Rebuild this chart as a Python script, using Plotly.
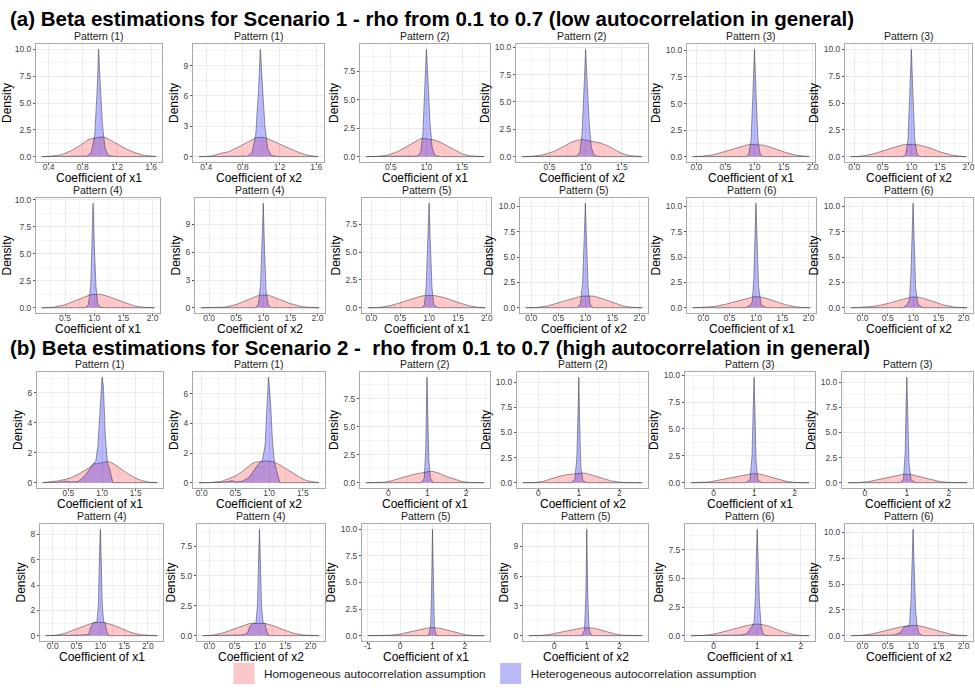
import plotly.graph_objects as go

FONT = "Arial, Liberation Sans, Helvetica, sans-serif"

TITLE_A = "(a) Beta estimations for Scenario 1 - rho from 0.1 to 0.7 (low autocorrelation in general)"
TITLE_B = "(b) Beta estimations for Scenario 2 -  rho from 0.1 to 0.7 (high autocorrelation in general)"
PANEL_TITLES = ["Pattern (1)", "Pattern (1)", "Pattern (2)", "Pattern (2)", "Pattern (3)", "Pattern (3)",
                "Pattern (4)", "Pattern (4)", "Pattern (5)", "Pattern (5)", "Pattern (6)", "Pattern (6)"]
X_TITLES = ["Coefficient of x1", "Coefficient of x2"] * 6
Y_TITLE = "Density"
SERIES_NAMES = ["Homogeneous autocorrelation assumption", "Heterogeneous autocorrelation assumption"]

# ---------------- Scenario 1 ----------------
a1_x = [0.32, 0.45, 0.55, 0.65, 0.75, 0.85, 0.90, 0.94, 0.97, 0.985, 1.00, 1.03, 1.06, 1.10, 1.20, 1.30, 1.40, 1.50, 1.66]
a1_hom = [0.00, 0.06, 0.18, 0.50, 0.95, 1.50, 1.68, 1.76, 1.80, 1.81, 1.82, 1.83, 1.80, 1.65, 1.20, 0.75, 0.40, 0.15, 0.00]
a1_het = [0, 0, 0, 0, 0, 0.05, 0.40, 2.00, 6.50, 10.0, 7.50, 3.00, 0.80, 0.10, 0, 0, 0, 0, 0]
a1_xt = [0.4, 0.8, 1.2, 1.6]
a1_yt = [0, 2.5, 5, 7.5, 10]

a2_x = [0.32, 0.45, 0.55, 0.65, 0.75, 0.85, 0.90, 0.94, 0.97, 0.99, 1.01, 1.04, 1.07, 1.11, 1.20, 1.30, 1.40, 1.50, 1.62]
a2_hom = [0.00, 0.05, 0.30, 0.50, 0.95, 1.45, 1.70, 1.85, 1.90, 1.92, 1.90, 1.85, 1.78, 1.60, 1.25, 0.85, 0.45, 0.15, 0.00]
a2_het = [0, 0, 0, 0, 0, 0.05, 0.40, 2.20, 6.50, 10.6, 7.50, 3.00, 0.80, 0.10, 0, 0, 0, 0, 0]
a2_xt = [0.4, 0.8, 1.2, 1.6]
a2_yt = [0, 3, 6, 9]

a3_x = [0.15, 0.30, 0.45, 0.60, 0.70, 0.80, 0.88, 0.92, 0.95, 0.98, 1.00, 1.02, 1.05, 1.08, 1.12, 1.20, 1.30, 1.40, 1.50, 1.60, 1.70, 1.81]
a3_hom = [0.00, 0.02, 0.12, 0.45, 0.80, 1.15, 1.45, 1.58, 1.60, 1.57, 1.55, 1.55, 1.52, 1.50, 1.45, 1.25, 0.90, 0.55, 0.25, 0.08, 0.02, 0.00]
a3_het = [0, 0, 0, 0, 0, 0, 0.05, 0.40, 2.00, 6.50, 9.40, 7.00, 3.00, 0.80, 0.10, 0, 0, 0, 0, 0, 0, 0]
a3_xt = [0.5, 1.0, 1.5]
a3_yt = [0, 2.5, 5, 7.5]

a4_x = [0.12, 0.25, 0.40, 0.55, 0.70, 0.80, 0.88, 0.92, 0.95, 0.98, 1.00, 1.02, 1.05, 1.08, 1.12, 1.20, 1.30, 1.40, 1.50, 1.60, 1.78]
a4_hom = [0.00, 0.03, 0.15, 0.45, 0.95, 1.30, 1.50, 1.55, 1.56, 1.55, 1.53, 1.50, 1.45, 1.40, 1.35, 1.25, 1.00, 0.65, 0.30, 0.10, 0.00]
a4_het = [0, 0, 0, 0, 0, 0, 0.05, 0.40, 2.00, 6.50, 9.80, 7.00, 3.00, 0.80, 0.10, 0, 0, 0, 0, 0, 0]
a4_xt = [0.5, 1.0, 1.5]
a4_yt = [0, 2.5, 5, 7.5, 10]

a5_x = [-0.06, 0.10, 0.30, 0.50, 0.70, 0.85, 0.90, 0.94, 0.97, 1.00, 1.03, 1.06, 1.10, 1.15, 1.30, 1.50, 1.70, 1.85, 1.94]
a5_hom = [0.00, 0.03, 0.18, 0.50, 0.88, 1.10, 1.14, 1.15, 1.15, 1.15, 1.15, 1.14, 1.12, 1.08, 0.85, 0.45, 0.15, 0.03, 0.00]
a5_het = [0, 0, 0, 0, 0, 0, 0.20, 1.50, 5.50, 10.1, 5.50, 1.50, 0.20, 0, 0, 0, 0, 0, 0]
a5_xt = [0, 0.5, 1, 1.5, 2]
a5_yt = [0, 2.5, 5, 7.5, 10]

a6_x = [-0.06, 0.10, 0.30, 0.50, 0.70, 0.85, 0.90, 0.94, 0.97, 1.00, 1.03, 1.06, 1.10, 1.15, 1.30, 1.50, 1.70, 1.85, 1.96]
a6_hom = [0.00, 0.03, 0.20, 0.52, 0.90, 1.10, 1.13, 1.14, 1.14, 1.14, 1.14, 1.13, 1.11, 1.07, 0.85, 0.45, 0.15, 0.03, 0.00]
a6_het = [0, 0, 0, 0, 0, 0, 0.20, 1.50, 5.50, 10.0, 5.50, 1.50, 0.20, 0, 0, 0, 0, 0, 0]
a6_xt = [0, 0.5, 1, 1.5, 2]
a6_yt = [0, 2.5, 5, 7.5, 10]

a7_x = [0.10, 0.30, 0.50, 0.70, 0.85, 0.90, 0.94, 0.96, 0.98, 1.00, 1.03, 1.06, 1.10, 1.20, 1.35, 1.50, 1.70, 1.85, 2.03]
a7_hom = [0.00, 0.05, 0.28, 0.72, 1.08, 1.17, 1.22, 1.24, 1.25, 1.26, 1.27, 1.27, 1.25, 1.12, 0.82, 0.48, 0.15, 0.04, 0.00]
a7_het = [0, 0, 0, 0, 0, 0.30, 2.00, 5.50, 9.70, 6.00, 2.00, 0.40, 0.05, 0, 0, 0, 0, 0, 0]
a7_xt = [0.5, 1, 1.5, 2]
a7_yt = [0, 2.5, 5, 7.5, 10]

a8_x = [-0.15, 0.10, 0.30, 0.50, 0.70, 0.85, 0.91, 0.95, 0.98, 1.00, 1.02, 1.05, 1.09, 1.15, 1.30, 1.50, 1.70, 1.85, 2.03]
a8_hom = [0.00, 0.01, 0.08, 0.35, 0.85, 1.22, 1.32, 1.36, 1.38, 1.39, 1.39, 1.38, 1.35, 1.25, 0.90, 0.45, 0.15, 0.04, 0.00]
a8_het = [0, 0, 0, 0, 0, 0, 0.40, 2.50, 7.50, 11.3, 7.00, 2.00, 0.30, 0, 0, 0, 0, 0, 0]
a8_xt = [0, 0.5, 1, 1.5, 2]
a8_yt = [0, 3, 6, 9]

a9_x = [-0.06, 0.15, 0.35, 0.55, 0.75, 0.88, 0.92, 0.95, 0.98, 1.00, 1.02, 1.05, 1.08, 1.15, 1.30, 1.50, 1.70, 1.85, 1.97]
a9_hom = [0.00, 0.04, 0.22, 0.55, 0.92, 1.07, 1.09, 1.10, 1.10, 1.10, 1.10, 1.10, 1.10, 1.05, 0.85, 0.48, 0.17, 0.04, 0.00]
a9_het = [0, 0, 0, 0, 0, 0, 0.30, 2.00, 6.50, 9.40, 6.00, 1.80, 0.30, 0, 0, 0, 0, 0, 0]
a9_xt = [0, 0.5, 1, 1.5, 2]
a9_yt = [0, 2.5, 5, 7.5]

a10_x = [-0.10, 0.10, 0.30, 0.50, 0.70, 0.85, 0.91, 0.95, 0.98, 1.00, 1.02, 1.05, 1.09, 1.15, 1.30, 1.50, 1.70, 1.85, 2.05]
a10_hom = [0.00, 0.04, 0.18, 0.48, 0.85, 1.08, 1.12, 1.14, 1.15, 1.16, 1.17, 1.18, 1.18, 1.15, 0.92, 0.52, 0.18, 0.05, 0.00]
a10_het = [0, 0, 0, 0, 0, 0, 0.40, 2.50, 7.00, 10.3, 7.00, 2.00, 0.30, 0, 0, 0, 0, 0, 0]
a10_xt = [0, 0.5, 1, 1.5, 2]
a10_yt = [0, 2.5, 5, 7.5, 10]

a11_x = [-0.20, 0.00, 0.20, 0.40, 0.60, 0.80, 0.88, 0.93, 0.96, 0.98, 1.00, 1.02, 1.05, 1.10, 1.20, 1.40, 1.60, 1.80, 2.03]
a11_hom = [0.00, 0.03, 0.12, 0.32, 0.60, 0.92, 1.02, 1.06, 1.08, 1.09, 1.10, 1.10, 1.09, 1.05, 0.92, 0.58, 0.25, 0.06, 0.00]
a11_het = [0, 0, 0, 0, 0, 0, 0.20, 0.60, 3.00, 7.00, 10.3, 7.00, 2.00, 0.30, 0, 0, 0, 0, 0]
a11_xt = [0, 0.5, 1, 1.5, 2]
a11_yt = [0, 2.5, 5, 7.5, 10]

a12_x = [-0.23, 0.00, 0.20, 0.40, 0.60, 0.80, 0.88, 0.93, 0.96, 0.98, 1.00, 1.02, 1.05, 1.10, 1.20, 1.40, 1.60, 1.80, 2.07]
a12_hom = [0.00, 0.03, 0.12, 0.30, 0.58, 0.88, 0.98, 1.02, 1.04, 1.05, 1.06, 1.06, 1.06, 1.04, 0.94, 0.62, 0.28, 0.07, 0.00]
a12_het = [0, 0, 0, 0, 0, 0, 0.30, 0.80, 3.50, 7.50, 10.3, 7.00, 2.00, 0.30, 0, 0, 0, 0, 0]
a12_xt = [0, 0.5, 1, 1.5, 2]
a12_yt = [0, 2.5, 5, 7.5, 10]

# ---------------- Scenario 2 ----------------
b1_x = [0.12, 0.25, 0.35, 0.45, 0.55, 0.65, 0.70, 0.75, 0.80, 0.85, 0.88, 0.91, 0.94, 0.97, 1.00, 1.02, 1.05, 1.08, 1.12, 1.16, 1.22, 1.30, 1.40, 1.50, 1.60, 1.70, 1.82]
b1_hom = [0.00, 0.05, 0.13, 0.22, 0.35, 0.58, 0.70, 0.82, 0.98, 1.15, 1.30, 1.25, 1.28, 1.32, 1.35, 1.38, 1.40, 1.42, 1.38, 1.30, 1.12, 0.85, 0.55, 0.30, 0.13, 0.04, 0.00]
b1_het = [0.00, 0.00, 0.03, 0.10, 0.05, 0.08, 0.30, 0.50, 0.80, 1.10, 1.25, 1.50, 2.50, 5.00, 7.05, 6.50, 3.00, 1.35, 0.80, 0.00, 0, 0, 0, 0, 0, 0, 0]
b1_xt = [0.5, 1.0, 1.5]
b1_yt = [0, 2, 4, 6]

b2_x = [-0.04, 0.15, 0.30, 0.40, 0.45, 0.50, 0.60, 0.70, 0.75, 0.80, 0.85, 0.90, 0.94, 0.97, 0.99, 1.02, 1.05, 1.08, 1.12, 1.16, 1.25, 1.35, 1.45, 1.55, 1.65, 1.74]
b2_hom = [0.00, 0.02, 0.10, 0.25, 0.35, 0.45, 0.75, 1.10, 1.30, 1.38, 1.42, 1.45, 1.46, 1.46, 1.46, 1.45, 1.42, 1.38, 1.30, 1.20, 0.95, 0.65, 0.38, 0.15, 0.08, 0.00]
b2_het = [0.00, 0.00, 0.02, 0.08, 0.15, 0.05, 0.10, 0.35, 0.70, 1.00, 1.30, 1.50, 2.50, 5.50, 7.10, 5.50, 2.80, 1.35, 0.60, 0.00, 0, 0, 0, 0, 0, 0]
b2_xt = [0, 0.5, 1.0, 1.5]
b2_yt = [0, 2, 4, 6]

b3_x = [-0.58, -0.30, -0.10, 0.10, 0.30, 0.50, 0.70, 0.85, 0.92, 0.96, 0.99, 1.01, 1.04, 1.08, 1.15, 1.30, 1.50, 1.70, 1.90, 2.10, 2.46]
b3_hom = [0.00, 0.01, 0.05, 0.20, 0.42, 0.60, 0.78, 0.90, 0.95, 0.98, 1.00, 1.01, 1.02, 1.02, 1.00, 0.85, 0.55, 0.30, 0.10, 0.02, 0.00]
b3_het = [0, 0, 0, 0, 0, 0, 0, 0.00, 0.40, 3.00, 9.40, 6.00, 2.00, 0.40, 0.00, 0, 0, 0, 0, 0, 0]
b3_xt = [0, 1, 2]
b3_yt = [0, 2.5, 5, 7.5]

b4_x = [-0.38, -0.10, 0.10, 0.30, 0.50, 0.70, 0.80, 0.90, 0.95, 0.98, 1.00, 1.02, 1.05, 1.10, 1.20, 1.40, 1.60, 1.80, 2.00, 2.20, 2.56]
b4_hom = [0.00, 0.02, 0.12, 0.38, 0.62, 0.80, 0.84, 0.85, 0.86, 0.88, 0.90, 0.92, 0.95, 0.97, 0.92, 0.68, 0.40, 0.18, 0.06, 0.01, 0.00]
b4_het = [0, 0, 0, 0, 0, 0, 0.00, 0.30, 2.50, 7.00, 10.5, 6.00, 1.50, 0.20, 0.00, 0, 0, 0, 0, 0, 0]
b4_xt = [0, 1, 2]
b4_yt = [0, 2.5, 5, 7.5, 10]

b5_x = [-0.56, -0.30, -0.10, 0.10, 0.30, 0.45, 0.60, 0.80, 0.90, 0.95, 0.98, 1.00, 1.02, 1.05, 1.10, 1.20, 1.40, 1.60, 1.80, 2.00, 2.36]
b5_hom = [0.00, 0.02, 0.08, 0.22, 0.38, 0.45, 0.58, 0.78, 0.84, 0.85, 0.86, 0.86, 0.86, 0.85, 0.82, 0.75, 0.55, 0.32, 0.13, 0.03, 0.00]
b5_het = [0, 0, 0, 0, 0, 0, 0, 0.00, 0.30, 2.50, 7.00, 9.80, 7.00, 2.00, 0.20, 0, 0, 0, 0, 0, 0]
b5_xt = [0, 1, 2]
b5_yt = [0, 2.5, 5, 7.5, 10]

b6_x = [-0.40, -0.15, 0.10, 0.30, 0.50, 0.70, 0.85, 0.92, 0.96, 0.98, 1.00, 1.02, 1.05, 1.10, 1.20, 1.40, 1.60, 1.80, 2.00, 2.43]
b6_hom = [0.00, 0.02, 0.12, 0.30, 0.52, 0.72, 0.82, 0.85, 0.86, 0.86, 0.86, 0.85, 0.84, 0.80, 0.72, 0.50, 0.28, 0.10, 0.03, 0.00]
b6_het = [0, 0, 0, 0, 0, 0, 0.00, 0.40, 3.00, 7.50, 10.5, 7.00, 2.00, 0.30, 0.00, 0, 0, 0, 0, 0]
b6_xt = [0, 1, 2]
b6_yt = [0, 2.5, 5, 7.5, 10]

b7_x = [-0.15, 0.05, 0.25, 0.45, 0.60, 0.70, 0.76, 0.80, 0.85, 0.93, 0.96, 0.98, 1.00, 1.02, 1.04, 1.07, 1.10, 1.14, 1.18, 1.30, 1.45, 1.65, 1.85, 2.00, 2.20]
b7_hom = [0.00, 0.03, 0.18, 0.45, 0.68, 0.85, 0.93, 0.97, 1.02, 1.06, 1.06, 1.06, 1.06, 1.06, 1.06, 1.05, 1.03, 0.98, 0.95, 0.80, 0.55, 0.25, 0.07, 0.02, 0.00]
b7_het = [0.00, 0.00, 0.00, 0.03, 0.05, 0.08, 0.10, 0.70, 1.00, 1.10, 2.50, 6.00, 8.40, 6.00, 2.50, 1.10, 1.00, 0.30, 0.00, 0, 0, 0, 0, 0, 0]
b7_xt = [0, 0.5, 1, 1.5, 2]
b7_yt = [0, 2, 4, 6, 8]

b8_x = [-0.13, 0.05, 0.25, 0.45, 0.60, 0.70, 0.76, 0.80, 0.85, 0.92, 0.95, 0.97, 0.99, 1.01, 1.03, 1.06, 1.10, 1.14, 1.18, 1.30, 1.45, 1.65, 1.85, 2.00, 2.17]
b8_hom = [0.00, 0.03, 0.20, 0.50, 0.75, 0.92, 1.00, 1.03, 1.04, 1.05, 1.05, 1.05, 1.05, 1.05, 1.05, 1.04, 1.02, 0.98, 0.94, 0.78, 0.52, 0.22, 0.06, 0.02, 0.00]
b8_het = [0.00, 0.00, 0.00, 0.03, 0.05, 0.10, 0.30, 0.80, 1.00, 1.05, 2.50, 6.00, 8.90, 6.00, 2.50, 1.10, 1.00, 0.30, 0.00, 0, 0, 0, 0, 0, 0]
b8_xt = [0, 0.5, 1, 1.5, 2]
b8_yt = [0, 2.5, 5, 7.5]

b9_x = [-1.00, -0.60, -0.30, 0.00, 0.30, 0.55, 0.75, 0.88, 0.94, 0.97, 1.00, 1.03, 1.06, 1.12, 1.30, 1.55, 1.80, 2.05, 2.30, 2.60]
b9_hom = [0.00, 0.01, 0.05, 0.15, 0.35, 0.55, 0.70, 0.74, 0.75, 0.75, 0.75, 0.75, 0.75, 0.74, 0.65, 0.45, 0.22, 0.07, 0.01, 0.00]
b9_het = [0, 0, 0, 0, 0, 0, 0, 0.00, 0.80, 4.00, 10.0, 4.00, 0.80, 0.00, 0, 0, 0, 0, 0, 0]
b9_xt = [-1, 0, 1, 2]
b9_yt = [0, 2.5, 5, 7.5, 10]

b10_x = [-0.78, -0.40, -0.10, 0.20, 0.50, 0.70, 0.85, 0.93, 0.97, 1.00, 1.03, 1.07, 1.15, 1.35, 1.60, 1.85, 2.10, 2.40, 2.70]
b10_hom = [0.00, 0.03, 0.15, 0.35, 0.58, 0.72, 0.78, 0.79, 0.80, 0.80, 0.80, 0.80, 0.78, 0.65, 0.40, 0.18, 0.05, 0.01, 0.00]
b10_het = [0, 0, 0, 0, 0, 0, 0.00, 0.60, 4.00, 10.7, 4.00, 0.60, 0.00, 0, 0, 0, 0, 0, 0]
b10_xt = [0, 1, 2]
b10_yt = [0, 3, 6, 9]

b11_x = [-0.52, -0.25, 0.00, 0.20, 0.40, 0.60, 0.75, 0.82, 0.88, 0.93, 0.96, 0.98, 1.00, 1.02, 1.05, 1.09, 1.14, 1.25, 1.45, 1.65, 1.85, 2.00, 2.19]
b11_hom = [0.00, 0.02, 0.12, 0.30, 0.52, 0.72, 0.88, 0.94, 0.98, 1.00, 1.01, 1.02, 1.02, 1.02, 1.00, 0.98, 0.95, 0.85, 0.55, 0.28, 0.09, 0.02, 0.00]
b11_het = [0.00, 0.00, 0.00, 0.00, 0.02, 0.05, 0.15, 0.50, 0.80, 1.20, 3.50, 7.00, 9.30, 7.00, 3.00, 0.80, 0.10, 0.00, 0, 0, 0, 0, 0]
b11_xt = [0, 1, 2]
b11_yt = [0, 2.5, 5, 7.5]

b12_x = [-0.23, 0.00, 0.20, 0.40, 0.55, 0.65, 0.75, 0.82, 0.88, 0.93, 0.96, 0.98, 1.00, 1.02, 1.05, 1.08, 1.12, 1.20, 1.35, 1.55, 1.75, 1.90, 2.07]
b12_hom = [0.00, 0.04, 0.18, 0.45, 0.65, 0.78, 0.85, 0.90, 0.95, 0.98, 1.00, 1.00, 1.00, 1.00, 1.00, 0.98, 0.96, 0.88, 0.68, 0.38, 0.13, 0.04, 0.00]
b12_het = [0.00, 0.00, 0.00, 0.02, 0.05, 0.10, 0.30, 0.85, 0.95, 1.00, 3.50, 7.00, 10.3, 7.00, 2.50, 0.90, 0.20, 0.00, 0, 0, 0, 0, 0]
b12_xt = [0, 0.5, 1, 1.5, 2]
b12_yt = [0, 2.5, 5, 7.5, 10]

PANELS = [
    (a1_x, a1_hom, a1_het, a1_xt, a1_yt), (a2_x, a2_hom, a2_het, a2_xt, a2_yt),
    (a3_x, a3_hom, a3_het, a3_xt, a3_yt), (a4_x, a4_hom, a4_het, a4_xt, a4_yt),
    (a5_x, a5_hom, a5_het, a5_xt, a5_yt), (a6_x, a6_hom, a6_het, a6_xt, a6_yt),
    (a7_x, a7_hom, a7_het, a7_xt, a7_yt), (a8_x, a8_hom, a8_het, a8_xt, a8_yt),
    (a9_x, a9_hom, a9_het, a9_xt, a9_yt), (a10_x, a10_hom, a10_het, a10_xt, a10_yt),
    (a11_x, a11_hom, a11_het, a11_xt, a11_yt), (a12_x, a12_hom, a12_het, a12_xt, a12_yt),
    (b1_x, b1_hom, b1_het, b1_xt, b1_yt), (b2_x, b2_hom, b2_het, b2_xt, b2_yt),
    (b3_x, b3_hom, b3_het, b3_xt, b3_yt), (b4_x, b4_hom, b4_het, b4_xt, b4_yt),
    (b5_x, b5_hom, b5_het, b5_xt, b5_yt), (b6_x, b6_hom, b6_het, b6_xt, b6_yt),
    (b7_x, b7_hom, b7_het, b7_xt, b7_yt), (b8_x, b8_hom, b8_het, b8_xt, b8_yt),
    (b9_x, b9_hom, b9_het, b9_xt, b9_yt), (b10_x, b10_hom, b10_het, b10_xt, b10_yt),
    (b11_x, b11_hom, b11_het, b11_xt, b11_yt), (b12_x, b12_hom, b12_het, b12_xt, b12_yt),
]

# ---------------- layout geometry (pixels) ----------------
W, H = 975, 688
ROW_Y = [(44, 162), (198, 313), (372, 488), (524, 641)]
ROW_COLS = [
    [(36, 162), (193, 324), (360, 490), (516, 648), (687, 815), (845, 972)],
    [(36, 160), (195, 325), (362, 491), (520, 648), (687, 816), (845, 973)],
    [(37, 163), (193, 325), (360, 490), (517, 648), (685, 815), (842, 973)],
    [(40, 163), (197, 325), (362, 490), (523, 648), (685, 815), (845, 973)],
]

HOM_FILL = "rgba(255,0,0,0.22)"
HET_FILL = "rgba(0,0,255,0.27)"
EDGE = "rgba(50,50,60,0.85)"
GRID = "#ebebeb"
MINOR_GRID = "#f4f4f4"
BORDER = "#a9a9a9"


def fmt(vals):
    dec = 1 if any(float(v) != int(v) for v in vals) else 0
    return [f"{v:.{dec}f}" for v in vals]


def minor_of(vals):
    step = vals[1] - vals[0]
    mids = [v + step / 2 for v in vals]
    return [vals[0] - step / 2] + mids


fig = go.Figure()
layout = dict(
    width=W, height=H, margin=dict(l=0, r=0, t=0, b=0, autoexpand=False),
    paper_bgcolor="white", plot_bgcolor="white",
    font=dict(family=FONT, color="#000000"),
    showlegend=True,
)
annotations = []

for i, (xs, hom, het, xt, yt) in enumerate(PANELS):
    assert len(xs) == len(hom) == len(het), i
    k = i + 1
    row = i // 6
    col = i % 6
    x0, x1 = ROW_COLS[row][col]
    y0, y1 = ROW_Y[row]
    xa = "x" if k == 1 else f"x{k}"
    ya = "y" if k == 1 else f"y{k}"

    for ys, fillc in ((hom, HOM_FILL), (het, HET_FILL)):
        fig.add_trace(go.Scatter(
            x=xs, y=ys, xaxis=xa, yaxis=ya, mode="lines", fill="tozeroy",
            fillcolor=fillc, line=dict(color=EDGE, width=0.6),
            showlegend=False, hoverinfo="skip"))

    xmin, xmax = min(xs), max(xs)
    span = xmax - xmin
    ymax = max(max(hom), max(het))
    common = dict(
        showline=True, mirror=True, linecolor=BORDER, linewidth=1,
        showgrid=True, gridcolor=GRID, gridwidth=1, zeroline=False,
        ticks="outside", ticklen=2, tickcolor="#555555", tickwidth=0.8,
        tickfont=dict(size=8.5, color="#444444", family=FONT),
        fixedrange=True, automargin=False,
    )
    layout[f"xaxis{'' if k == 1 else k}"] = dict(
        common, domain=[x0 / W, x1 / W], anchor=ya,
        range=[xmin - 0.05 * span, xmax + 0.05 * span],
        tickmode="array", tickvals=xt, ticktext=fmt(xt), ticklabelstandoff=-5,
        minor=dict(tickvals=minor_of(xt), showgrid=True, gridcolor=MINOR_GRID, ticklen=0),
    )
    layout[f"yaxis{'' if k == 1 else k}"] = dict(
        common, domain=[1 - y1 / H, 1 - y0 / H], anchor=xa,
        range=[-0.05 * ymax, 1.05 * ymax],
        tickmode="array", tickvals=yt, ticktext=fmt(yt),
        minor=dict(tickvals=minor_of(yt), showgrid=True, gridcolor=MINOR_GRID, ticklen=0),
        title=dict(text=Y_TITLE, font=dict(size=12, color="#000000"), standoff=2),
    )
    annotations.append(dict(
        text=PANEL_TITLES[i % 12], xref=f"{xa} domain", yref=f"{ya} domain",
        x=0.5, y=1, xanchor="center", yanchor="bottom", yshift=0, showarrow=False,
        font=dict(size=10.5, color="#1a1a1a", family=FONT)))
    annotations.append(dict(
        text=X_TITLES[i % 12], xref=f"{xa} domain", yref=f"{ya} domain",
        x=0.5, y=0, xanchor="center", yanchor="top", yshift=-7, showarrow=False,
        font=dict(size=12, color="#000000", family=FONT)))

annotations.append(dict(text=f"<b>{TITLE_A}</b>", xref="paper", yref="paper",
                        x=8 / W, y=1 - 18 / H, xanchor="left", yanchor="middle",
                        showarrow=False, font=dict(size=20.5, color="#000000", family=FONT)))
annotations.append(dict(text=f"<b>{TITLE_B}</b>", xref="paper", yref="paper",
                        x=8 / W, y=1 - 347 / H, xanchor="left", yanchor="middle",
                        showarrow=False, font=dict(size=20.5, color="#000000", family=FONT)))

# legend keys
for name, col in zip(SERIES_NAMES, ["#f9c7c7", "#b9b9f7"]):
    fig.add_trace(go.Scatter(
        x=[None], y=[None], mode="markers", name=name,
        marker=dict(symbol="square", size=16, color=col, line=dict(color=col, width=5)),
        hoverinfo="skip"))

layout["legend"] = dict(
    orientation="h", x=224 / W, y=0, xanchor="left", yanchor="bottom",
    font=dict(size=11.8, color="#1a1a1a", family=FONT), bgcolor="rgba(0,0,0,0)",
    itemsizing="trace", itemwidth=30)
layout["annotations"] = annotations
fig.update_layout(**layout)

fig.write_html("out.html", config={"displayModeBar": False},
               post_script="document.body.style.margin='0px';")
